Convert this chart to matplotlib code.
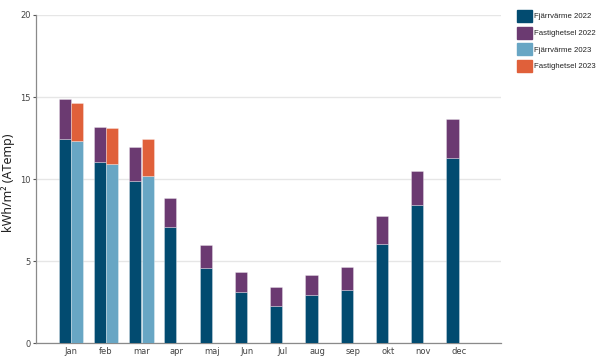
import matplotlib
matplotlib.use("Agg")
import matplotlib.pyplot as plt
import numpy as np
from matplotlib.patches import Patch

months = ["Jan", "feb", "mar", "apr", "maj", "Jun", "Jul", "aug", "sep", "okt", "nov", "dec"]
fjv_2022 = [12.44, 11.05, 9.90, 7.09, 4.57, 3.09, 2.23, 2.95, 3.25, 6.07, 8.43, 11.26]
el_2022 = [2.44, 2.12, 2.07, 1.77, 1.42, 1.22, 1.18, 1.23, 1.36, 1.65, 2.03, 2.42]
fjv_2023 = [12.34, 10.91, 10.20]
el_2023 = [2.27, 2.18, 2.22]
legend_labels = ["Fjärrvärme 2022", "Fastighetsel 2022", "Fjärrvärme 2023", "Fastighetsel 2023"]

c_fjv22 = "#024b70"
c_el22 = "#6b3a71"
c_fjv23 = "#68a6c4"
c_el23 = "#e0603a"

fig = plt.figure(figsize=(6, 3.57), dpi=100)
ax = fig.add_axes([0.06, 0.039, 0.775, 0.919])

x = np.arange(len(months))
w = 0.345
x22 = x - w / 2 - 0.005
x23 = np.arange(len(fjv_2023)) + w / 2 + 0.005

def bars(xs, vals, bottom, color):
    ax.bar(xs, vals, width=w, bottom=bottom, color=color,
           edgecolor=(1, 1, 1, 0.35), linewidth=0.6, zorder=3)

bars(x22, fjv_2022, None, c_fjv22)
bars(x22, el_2022, fjv_2022, c_el22)
bars(x23, fjv_2023, None, c_fjv23)
bars(x23, el_2023, fjv_2023, c_el23)

ax.set_xlim(-0.99, 12.2)
ax.set_ylim(0, 20)
ax.set_yticks([0, 5, 10, 15, 20])
ax.set_xticks(x)
ax.set_xticklabels(months)
ax.yaxis.grid(True, color="#e6e6e6", linewidth=1.0, zorder=0)
ax.set_axisbelow(True)
for s in ["top", "right"]:
    ax.spines[s].set_visible(False)
for s in ["left", "bottom"]:
    ax.spines[s].set_color("#8a8a8a")
    ax.spines[s].set_linewidth(0.9)
ax.tick_params(axis="both", labelsize=6, colors="#555555", length=2.5, width=0.8, pad=1.5)
ax.tick_params(axis="x", length=0, pad=3)
for lab in ax.get_xticklabels() + ax.get_yticklabels():
    lab.set_color("#444444")

ax.set_ylabel("kWh/m² (ATemp)", fontsize=9, color="#222222", family="Noto Sans")
ax.yaxis.set_label_coords(-0.045, 0.49)

handles = [Patch(facecolor=c, edgecolor=c) for c in [c_fjv22, c_el22, c_fjv23, c_el23]]
leg = fig.legend(handles, legend_labels, loc="upper left", bbox_to_anchor=(0.862, 0.972),
           frameon=False, prop={"family": "Liberation Sans", "size": 5.6},
           handlelength=1.9, handleheight=2.0,
           labelspacing=0.58, handletextpad=0.25, borderaxespad=0, borderpad=0)
for t in leg.get_texts():
    t.set_color("#222222")

fig.savefig("out.png", dpi=100)
